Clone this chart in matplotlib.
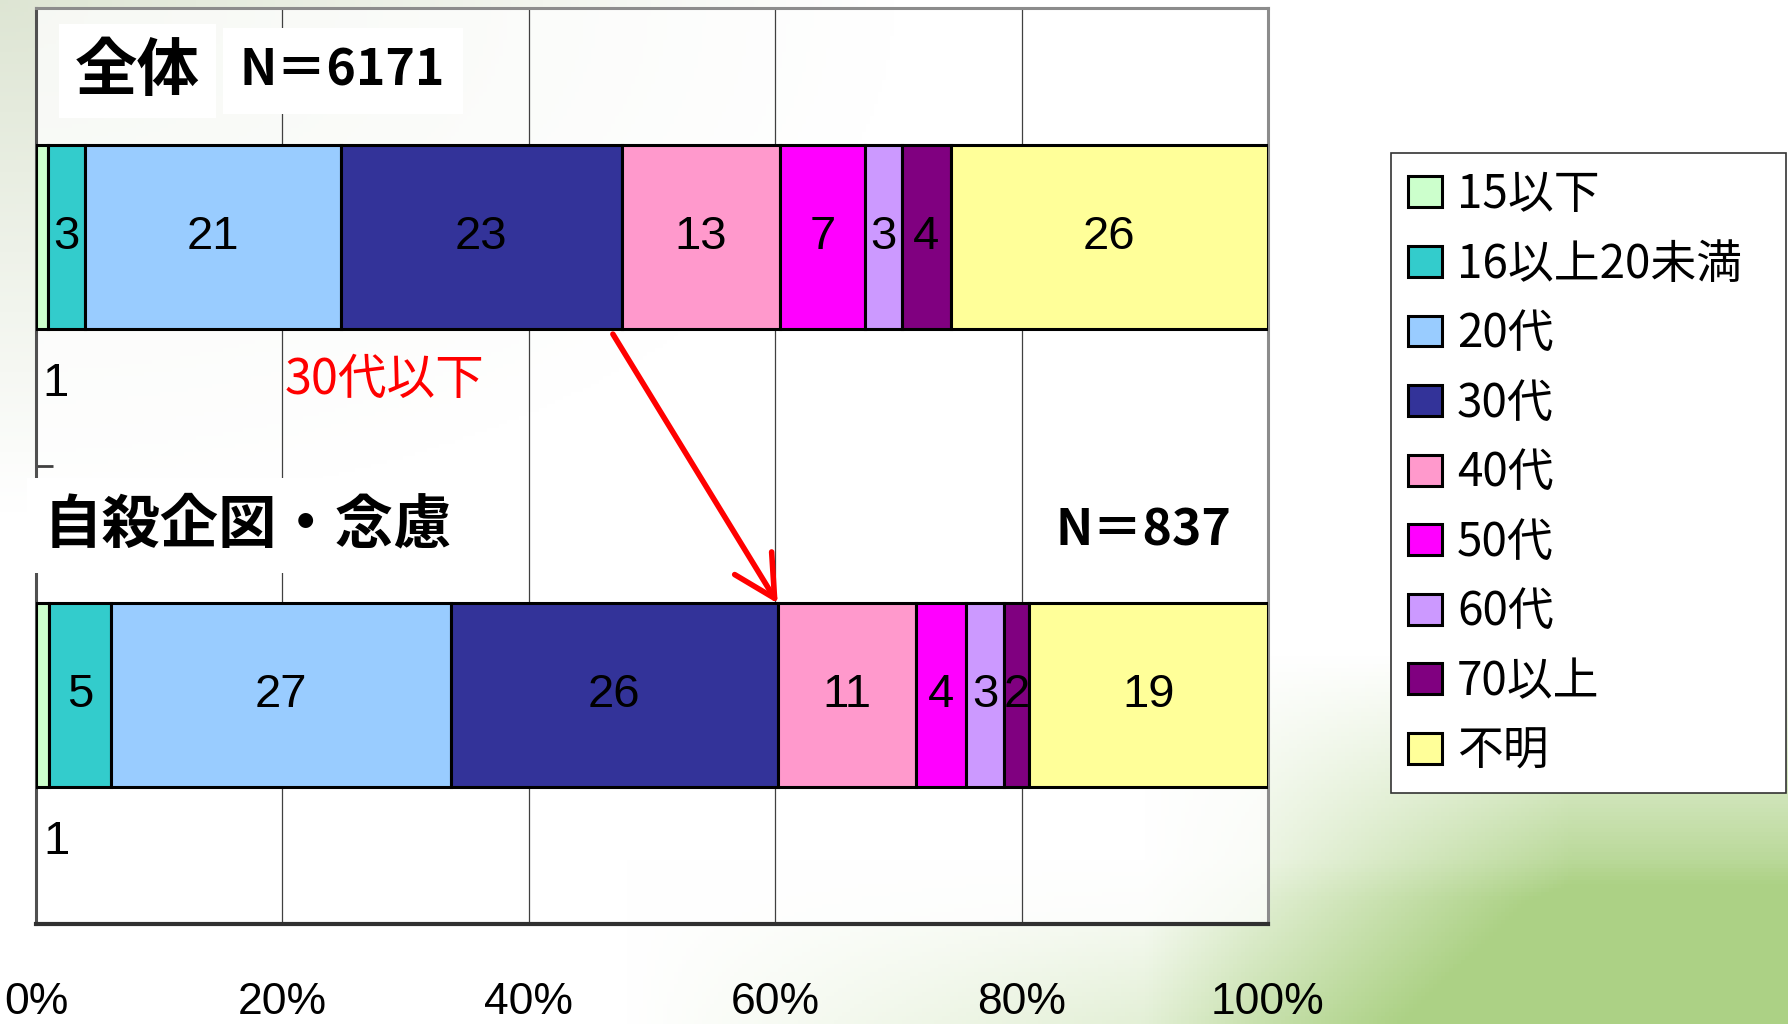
import numpy as np
import matplotlib.pyplot as plt
from matplotlib import font_manager

available = {f.name for f in font_manager.fontManager.ttflist}
narrow = next((n for n in ["Liberation Sans Narrow", "DejaVu Sans Condensed", "Liberation Sans"]
               if n in available), "DejaVu Sans")
jp = ["Noto Sans CJK JP", "DejaVu Sans"]
plt.rcParams["font.family"] = jp

# age groups and their shares (%)
groups = ["15以下", "16以上20未満", "20代", "30代", "40代", "50代", "60代", "70以上", "不明"]
colors = ["#CCFFCC", "#33CCCC", "#99CCFF", "#333399", "#FF99CC", "#FF00FF", "#CC99FF", "#800080", "#FFFF99"]
all_vals = [1, 3, 21, 23, 13, 7, 3, 4, 26]
att_vals = [1, 5, 27, 26, 11, 4, 3, 2, 19]
rows = ["全体", "自殺企図・念慮"]
n_total = 6171
n_att = 837
xticks = [0, 20, 40, 60, 80, 100]

data = np.array([all_vals, att_vals], dtype=float)
pct = data / data.sum(axis=1, keepdims=True) * 100
left = np.cumsum(pct, axis=1) - pct

fig = plt.figure(figsize=(17.88, 10.24), dpi=100)

# soft leafy backdrop
bg = fig.add_axes([0, 0, 1, 1], zorder=-5)
H, W = 256, 448
yy, xx = np.mgrid[0:1:H * 1j, 0:1:W * 1j]
leaf = np.clip((xx - 0.64) / 0.24, 0, 1) * np.clip((yy - 0.64) / 0.24, 0, 1)
band = 0.4 * np.clip((yy - 0.84) / 0.16, 0, 1) * np.clip((xx - 0.35) / 0.35, 0, 1)
a1 = np.clip(leaf + band, 0, 1)[..., None] * 0.85
corner = (0.5 * np.clip(1 - np.hypot(xx / 0.5, yy / 0.5), 0, 1))[..., None]
img = np.ones((H, W, 3))
img = img * (1 - a1) + np.array([0.62, 0.79, 0.44]) * a1
img = img * (1 - corner) + np.array([0.74, 0.80, 0.66]) * corner
bg.imshow(img, aspect="auto", extent=[0, 1, 0, 1])
bg.axis("off")

ax = fig.add_axes([36 / 1788, 1 - 924 / 1024, 1232 / 1788, 916 / 1024])
ax.set_facecolor((1, 1, 1, 0.75))

h = 0.4
for j, g in enumerate(groups):
    ax.barh([0, 1], pct[:, j], left=left[:, j], height=h, color=colors[j],
            edgecolor="black", linewidth=2.2, label=g, zorder=3)
    for i in range(2):
        cx = left[i, j] + pct[i, j] / 2
        val = int(data[i, j])
        if pct[i, j] < 1.5:
            ax.annotate(str(val), (cx, i + h / 2), xytext=(10, -40), textcoords="offset points",
                        ha="center", va="center", fontsize=34, family=narrow, zorder=4)
        else:
            ax.text(cx, i, str(val), ha="center", va="center", fontsize=34,
                    family=narrow, color="black", zorder=4)

ax.set_xlim(0, 100)
ax.set_ylim(1.5, -0.5)
ax.set_xticks(xticks)
ax.set_xticklabels([f"{t}%" for t in xticks], family=narrow, fontsize=32)
ax.tick_params(axis="x", length=0, pad=42)
ax.set_yticks([0.5])
ax.set_yticklabels([""])
ax.tick_params(axis="y", direction="in", length=12, width=2, color="#404040")
ax.grid(axis="x", color="#404040", linewidth=0.9)
ax.set_axisbelow(True)
for s in ["top", "right"]:
    ax.spines[s].set_color("#8c8c8c")
    ax.spines[s].set_linewidth(2.2)
ax.spines["left"].set_color("#505050")
ax.spines["left"].set_linewidth(2.2)
ax.spines["bottom"].set_color("#303030")
ax.spines["bottom"].set_linewidth(3)

# arrow linking the cumulative share up to the 30s
i30 = groups.index("30代")
ax.annotate("", xy=(left[1, i30] + pct[1, i30], 1 - h / 2),
            xytext=(left[0, i30] + pct[0, i30] - 0.7, h / 2 + 0.012),
            arrowprops=dict(arrowstyle="->,head_length=0.74,head_width=0.39", color="red",
                            lw=4, mutation_scale=40, shrinkA=0, shrinkB=0), zorder=5)
fig.text(285 / 1788, 1 - 380 / 1024, "30代以下", color="red", fontsize=35, va="center", ha="left")

box = dict(boxstyle="square,pad=0.25", facecolor="white", edgecolor="none")
fig.text(75 / 1788, 1 - 71 / 1024, rows[0], fontsize=45, fontweight="bold", va="center", ha="left", bbox=box)
fig.text(240 / 1788, 1 - 71 / 1024, f"N＝{n_total}", fontsize=36, fontweight="bold", va="center", ha="left",
         bbox=dict(boxstyle="square,pad=0.35", facecolor="white", edgecolor="none"))
fig.text(44 / 1788, 1 - 525 / 1024, rows[1], fontsize=42, fontweight="bold", va="center", ha="left",
         bbox=dict(boxstyle="square,pad=0.3", facecolor="white", edgecolor="none"), zorder=6)
fig.text(1056 / 1788, 1 - 531 / 1024, f"N＝{n_att}", fontsize=36, fontweight="bold", va="center", ha="left",
         bbox=dict(boxstyle="square,pad=0.4", facecolor="white", edgecolor="none"))

leg = ax.legend(loc="upper left", bbox_to_anchor=(1391 / 1788, 0, 395 / 1788, 1 - 153 / 1024),
                bbox_transform=fig.transFigure, mode="expand", borderaxespad=0,
                prop=dict(family=jp, size=33),
                handlelength=0.73, handleheight=0.66, handletextpad=0.33, labelspacing=0.46,
                borderpad=0.38, fancybox=False, framealpha=1, edgecolor="#333333")
leg.get_frame().set_linewidth(1.2)

fig.savefig("out.png", dpi=100)
